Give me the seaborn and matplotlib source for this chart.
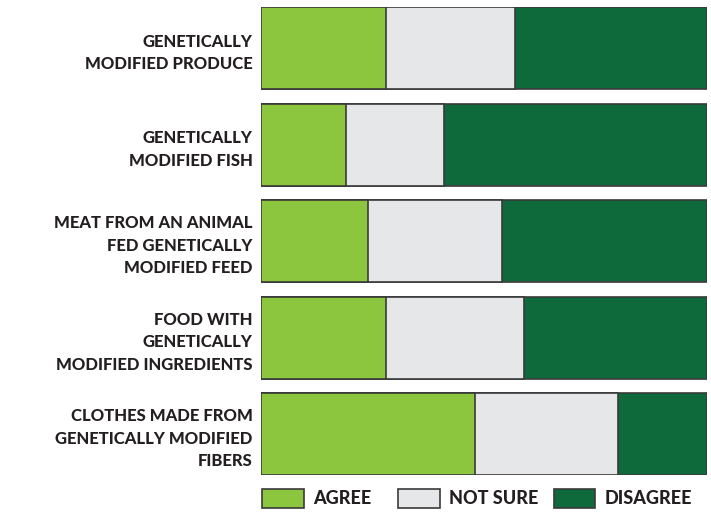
import pandas as pd
import matplotlib.pyplot as plt
import seaborn as sns
from matplotlib.patches import Patch

# Data (percent of respondents)
categories = [
    "GENETICALLY\nMODIFIED PRODUCE",
    "GENETICALLY\nMODIFIED FISH",
    "MEAT FROM AN ANIMAL\nFED GENETICALLY\nMODIFIED FEED",
    "FOOD WITH\nGENETICALLY\nMODIFIED INGREDIENTS",
    "CLOTHES MADE FROM\nGENETICALLY MODIFIED\nFIBERS",
]
agree = [28, 19, 24, 28, 48]
not_sure = [29, 22, 30, 31, 32]
disagree = [43, 59, 46, 41, 20]
series_names = ["AGREE", "NOT SURE", "DISAGREE"]

colors = {"AGREE": "#8cc63f", "NOT SURE": "#e6e7e8", "DISAGREE": "#0e6a3a"}
edge = "#3a3a3a"
text_color = "#231f20"

sns.set_theme(style="white")
plt.rcParams["font.family"] = ["Lato", "DejaVu Sans"]

df = pd.DataFrame({"category": categories, "AGREE": agree,
                   "NOT SURE": not_sure, "DISAGREE": disagree})
df["cum_agree"] = df["AGREE"]
df["cum_notsure"] = df["AGREE"] + df["NOT SURE"]
df["cum_total"] = df["cum_notsure"] + df["DISAGREE"]

fig = plt.figure(figsize=(7.11, 5.12), dpi=100)
ax = fig.add_axes([0.367, 0.072, 0.627, 0.914])

# stacked bars: draw cumulative totals back to front
for col, name in [("cum_total", "DISAGREE"), ("cum_notsure", "NOT SURE"), ("cum_agree", "AGREE")]:
    sns.barplot(data=df, y="category", x=col, orient="h", color=colors[name],
                saturation=1, width=0.85, edgecolor=edge, linewidth=1.2, ax=ax)

ax.set_xlim(0, 100)
ax.set_ylim(4.425, -0.425)
ax.set_xlabel("")
ax.set_ylabel("")
ax.set_xticks([])
ax.tick_params(axis="y", length=0, pad=6)
for lbl in ax.get_yticklabels():
    lbl.set_fontweight("black")
    lbl.set_fontsize(12)
    lbl.set_color(text_color)
    lbl.set_horizontalalignment("right")
    lbl.set_multialignment("right")
    lbl.set_linespacing(1.5)
sns.despine(ax=ax, left=True, bottom=True)

# one legend entry per series, spread along the bottom like the original
legend_x = [0.364, 0.555, 0.774]
for name, x in zip(series_names, legend_x):
    handle = Patch(facecolor=colors[name], edgecolor=edge, linewidth=1.2, label=name)
    leg = fig.legend(handles=[handle], loc="center left", bbox_to_anchor=(x, 0.027),
                     frameon=False, handlelength=2.3, handleheight=1.25, handletextpad=0.5,
                     borderaxespad=0, borderpad=0.2,
                     prop={"weight": "black", "size": 13})
    for t in leg.get_texts():
        t.set_color(text_color)

fig.savefig("out.png", dpi=100, facecolor="white")
